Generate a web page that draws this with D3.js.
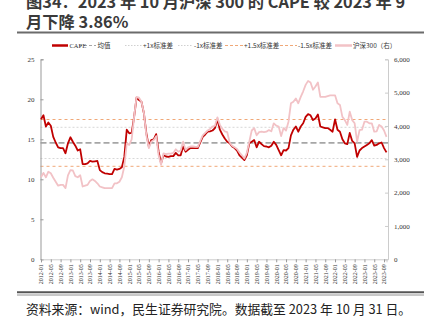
<!DOCTYPE html>
<html><head><meta charset="utf-8">
<script src="https://cdn.jsdelivr.net/npm/d3@7/dist/d3.min.js"></script>
<style>body{margin:0;background:#fff}svg{display:block}</style>
</head><body><svg id="c" width="428" height="324"></svg>
<script>
const startYear = 2012, startMonth = 1; // first observation 2012-01, monthly
const cape = [
17.5,18.0,16.6,17.1,16.7,15.3,14.6,14.0,13.9,13.9,13.25,14.5,
15.25,14.7,14.2,13.6,13.75,11.9,11.9,12.0,12.3,12.2,12.25,12.3,
11.15,10.9,10.75,10.7,10.65,10.65,11.3,11.2,11.3,11.5,12.8,16.2,
15.75,15.8,17.8,20.2,19.9,19.7,18.25,15.75,14.1,14.9,15.0,15.65,
13.45,12.0,13.0,12.85,12.8,12.9,12.9,13.3,13.0,13.0,14.1,13.45,
13.7,13.9,13.9,13.9,13.9,14.6,15.3,15.6,15.95,16.0,16.1,16.4,
17.5,16.2,15.6,15.1,14.7,14.5,14.1,13.9,13.6,13.0,12.7,12.4,
13.0,14.5,14.7,14.9,14.0,14.7,14.4,14.15,14.1,14.0,14.2,14.7,
14.3,13.65,13.0,13.65,13.6,13.9,15.5,16.2,16.6,15.95,16.6,17.0,
17.8,18.15,18.0,17.4,17.6,18.1,16.6,16.5,16.4,16.4,16.2,15.95,
17.5,16.2,15.95,15.0,14.5,14.4,15.8,14.8,14.5,12.8,13.6,13.9,
14.1,14.3,14.5,14.9,14.2,14.3,14.5,14.6,13.9,13.36
];
const csi300 = [
2460,2592,2460,2628,2580,2448,2328,2208,2232,2232,2136,2520,
2676,2664,2496,2460,2520,2184,2208,2232,2352,2400,2352,2280,
2184,2160,2136,2136,2136,2136,2280,2280,2328,2460,2784,3480,
3432,3600,4272,4872,4848,4728,4392,3720,3336,3528,3576,3696,
3120,2832,3180,3156,3168,3168,3192,3300,3228,3264,3528,3276,
3360,3384,3384,3372,3372,3552,3720,3792,3864,3912,3984,4008,
4260,4032,3912,3840,3816,3504,3408,3360,3312,3204,3120,3024,
3192,3528,3864,3936,3720,3816,3828,3816,3828,3876,3840,4080,
4008,3984,3696,3936,3864,4128,4680,4728,4824,4680,4872,5040,
5232,5352,5304,5088,5184,5304,4872,4872,4872,4896,4920,4920,
4920,4680,4632,4272,4176,4032,4428,4176,4080,3528,3876,3888,
4128,4128,4080,4080,3828,3840,4032,3984,3864,3672
];
const capeMean = 14.55, capeStd = 1.95;
const leftTicks = [0,5,10,15,20,25];
const rightTicks = [0,1000,2000,3000,4000,5000,6000];
const xTickLabels = ["2012-01","2012-05","2012-09","2013-01","2013-05","2013-09","2014-01","2014-05","2014-09",
"2015-01","2015-05","2015-09","2016-01","2016-05","2016-09","2017-01","2017-05","2017-09","2018-01","2018-05","2018-09",
"2019-01","2019-05","2019-09","2020-01","2020-05","2020-09","2021-01","2021-05","2021-09","2022-01","2022-05","2022-09",
"2023-01","2023-05","2023-09"];
const titleLines = ["图34：2023 年 10 月沪深 300 的 CAPE 较 2023 年 9","月下降 3.86%"];
const sourceText = "资料来源：wind，民生证券研究院。数据截至 2023 年 10 月 31 日。";

const svg = d3.select("#c");
const L = 40.5, R = 388, T = 59.3, B = 259.3;
const serif = "'Liberation Serif','Times New Roman',serif";
const cjk = "'Noto Sans CJK SC','Noto Sans CJK JP',sans-serif";

const n = cape.length;
const x = d3.scaleLinear().domain([0, n - 1]).range([L + 0.5, R - 1.5]);
const yL = d3.scaleLinear().domain([0, 25]).range([B, T]);
const yR = d3.scaleLinear().domain([0, 6000]).range([B, T]);
const idx = s => (+s.slice(0,4) - startYear) * 12 + (+s.slice(5,7) - startMonth);

// title
svg.append("g").selectAll("text").data(titleLines).join("text")
  .attr("x", 26).attr("y", (d,i) => 8 + i * 19.5)
  .attr("font-family", cjk).attr("font-weight", "bold").attr("font-size", 16.3)
  .attr("fill", "#3a3a3a").text(d => d);
svg.append("line").attr("x1", 17).attr("x2", 424).attr("y1", 32.5).attr("y2", 32.5)
  .attr("stroke", "#6b6b6b").attr("stroke-width", 2);

// reference lines
const refs = [
  {v: capeMean + 1.5 * capeStd, c: "#f0a878", w: 1, d: "3,3"},
  {v: capeMean + capeStd, c: "#d8d8d8", w: 1, d: "2,2"},
  {v: capeMean, c: "#a6a6a6", w: 1.6, d: "6,3"},
  {v: capeMean - capeStd, c: "#d8d8d8", w: 1, d: "2,2"},
  {v: capeMean - 1.5 * capeStd, c: "#f0a878", w: 1, d: "3,3"}
];
svg.append("g").selectAll("line").data(refs).join("line")
  .attr("x1", L).attr("x2", R).attr("y1", d => yL(d.v)).attr("y2", d => yL(d.v))
  .attr("stroke", d => d.c).attr("stroke-width", d => d.w).attr("stroke-dasharray", d => d.d);

// axes
const gL = svg.append("g").attr("transform", `translate(${L},0)`)
  .call(d3.axisRight(yL).tickValues(leftTicks).tickSize(3).tickFormat(d3.format("d")));
gL.select(".domain").attr("stroke", "#999");
gL.selectAll(".tick line").attr("stroke", "#999");
gL.selectAll("text").attr("x", -6).attr("text-anchor", "end")
  .attr("font-family", serif).attr("font-size", 7).attr("fill", "#333");

const gR = svg.append("g").attr("transform", `translate(${R},0)`)
  .call(d3.axisLeft(yR).tickValues(rightTicks).tickSize(3).tickFormat(d3.format(",")));
gR.select(".domain").attr("stroke", "#ccc");
gR.selectAll(".tick line").attr("stroke", "#ccc");
gR.selectAll("text").attr("x", 6).attr("text-anchor", "start")
  .attr("font-family", serif).attr("font-size", 7).attr("fill", "#333");

const gX = svg.append("g").attr("transform", `translate(0,${B})`)
  .call(d3.axisBottom(x).tickValues(xTickLabels.map(idx)).tickSize(3).tickFormat(""));
gX.select(".domain").attr("stroke", "#ccc");
gX.selectAll(".tick line").attr("stroke", "#999");
gX.selectAll(".tick").append("text")
  .attr("transform", "translate(0,5) rotate(-90)")
  .attr("text-anchor", "end").attr("dy", "0.32em")
  .attr("font-family", serif).attr("font-size", 6).attr("fill", "#333")
  .text((d,i) => xTickLabels[i]);

// series
svg.append("path").datum(cape)
  .attr("fill", "none").attr("stroke", "#c00000").attr("stroke-width", 1.8).attr("stroke-linejoin", "round")
  .attr("d", d3.line().x((d,i) => x(i)).y(d => yL(d)));
svg.append("path").datum(csi300)
  .attr("fill", "none").attr("stroke", "#f2c2c6").attr("stroke-width", 1.8).attr("stroke-linejoin", "round")
  .attr("d", d3.line().x((d,i) => x(i)).y(d => yR(d)));

// legend
const legend = [
  {x1: 52, x2: 68, c: "#c00000", w: 2.5, d: null, t: "CAPE", tx: 69.5, f: serif},
  {x1: 79, x2: 96, c: "#a6a6a6", w: 1.2, d: "3,2", t: "均值", tx: 97.5, f: cjk},
  {x1: 125, x2: 142, c: "#d0d0d0", w: 1, d: "1.5,1.5", t: "+1x标准差", tx: 143, f: cjk},
  {x1: 178, x2: 193, c: "#d0d0d0", w: 1, d: "1.5,1.5", t: "-1x标准差", tx: 194, f: cjk},
  {x1: 225, x2: 243, c: "#f0a878", w: 1, d: "3,2", t: "+1.5x标准差", tx: 244, f: cjk},
  {x1: 280, x2: 297, c: "#f0a878", w: 1, d: "3,2", t: "-1.5x标准差", tx: 298, f: cjk},
  {x1: 335, x2: 352, c: "#f2c2c6", w: 2.5, d: null, t: "沪深300（右）", tx: 353, f: cjk}
];
const lg = svg.append("g");
lg.selectAll("line").data(legend).join("line")
  .attr("x1", d => d.x1).attr("x2", d => d.x2).attr("y1", 45.5).attr("y2", 45.5)
  .attr("stroke", d => d.c).attr("stroke-width", d => d.w).attr("stroke-dasharray", d => d.d);
lg.selectAll("text").data(legend).join("text")
  .attr("x", d => d.tx).attr("y", 45.5).attr("dy", "0.35em")
  .attr("font-family", d => d.f).attr("font-size", 6.5).attr("fill", "#333").text(d => d.t);

// bottom rules and source
svg.append("line").attr("x1", 17).attr("x2", 424).attr("y1", 292.3).attr("y2", 292.3)
  .attr("stroke", "#555").attr("stroke-width", 2);
svg.append("line").attr("x1", 17).attr("x2", 424).attr("y1", 295).attr("y2", 295)
  .attr("stroke", "#777").attr("stroke-width", 0.8);
svg.append("text").attr("x", 26).attr("y", 313.5)
  .attr("font-family", cjk).attr("font-size", 12.8).attr("fill", "#222").text(sourceText);
</script></body></html>
